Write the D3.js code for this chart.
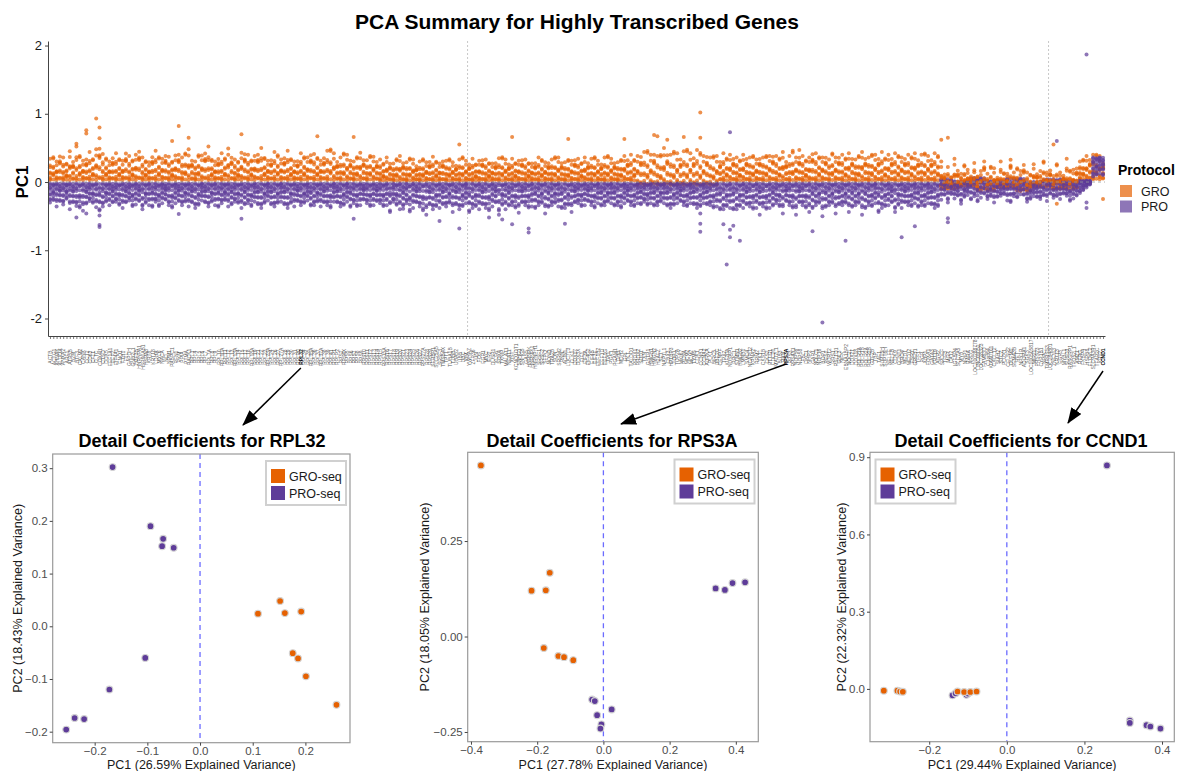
<!DOCTYPE html>
<html>
<head>
<meta charset="utf-8">
<script src="https://cdn.jsdelivr.net/npm/d3@7"></script>
<style>
  body { margin: 0; background: #fff; }
  svg { display: block; font-family: "Liberation Sans", Arial, Helvetica, sans-serif; }
</style>
</head>
<body>
<div id="chart"></div>
<script>
// ---- data ----
const genes = `
ACTB ACTG1 AHNAK ALDOA ANXA2 ARF1 ATP5B B2M BTF3 CALM2 CANX CCT2 CD63 CFL1 CLTC COX4I1 CTSD DDX5 EEF1A1 EEF2
EIF4A1 ENO1 FTH1 FTL GAPDH GNB2L1 H3F3B HNRNPA1 HSP90AB1 HSPA8 KRT8 KRT18 LDHA MYL6 NACA NCL NPM1 PABPC1 PFN1 PKM
PPIA PTMA RACK1 RPL3 RPL4 RPL5 RPL6 RPL7 RPL7A RPL8 RPL9 RPL10 RPL10A RPL11 RPL12 RPL13 RPL13A RPL14 RPL15 RPL17
RPL18 RPL18A RPL19 RPL21 RPL22 RPL23 RPL23A RPL24 RPL26 RPL27 RPL27A RPL28 RPL29 RPL30 RPL31 RPLP0 RPL32 RPL34 RPL35 RPL35A
RPL36 RPL37 RPL37A RPL38 RPL39 RPL41 RPLP1 RPLP2 RPS2 RPS4X RPS5 RPS6 RPS7 RPS8 RPS9 RPS10 RPS11 RPS12 RPS13 RPS14
RPS15 RPS15A RPS16 RPS17 RPS18 RPS19 RPS20 RPS21 RPS23 RPS24 RPS25 RPS26 RPS27 RPS27A RPS28 RPS29 SERBP1 SLC25A5 SRSF3 TMSB4X
TPT1 TUBA1B TUBB UBA52 UBB UBC VIM YWHAZ ZFP36 JUN FOS EGR1 MYC IER2 DUSP1 KLF6 SOX4 TXNIP MALAT1 NEAT1
XIST KCNQ1OT1 SNHG1 SNHG5 GAS5 HNRNPK HNRNPU HNRNPH1 SRSF1 SRSF2 SFPQ NONO TRA2B SON SRRM2 PNN ACIN1 LUC7L3 CLK1 DDX17
DDX3X EIF1 EIF3A EIF4G2 EIF4B EIF3E EEF1B2 EEF1D EEF1G TPI1 PGK1 PGAM1 LDHB MDH2 GPI TKT TALDO1 PRDX1 PRDX2 SOD1
TXN GSTP1 HMGB1 HMGN2 H2AFZ SET NAP1L1 CBX3 HP1BP3 TOP1 TOP2A MKI67 PCNA MCM2 MCM7 TYMS CDK1 CCNB1 CCNA2 AURKA
PLK1 BIRC5 UBE2C CENPF TPX2 KIF20A NUSAP1 PRC1 STMN1 HMGB2 LMNB1 SMC4 NCAPD2 KPNA2 RRM2 TK1 CKS1B CKS2 PTTG1 CDC20
MAD2L1 BUB3 RAN RPS3A RPS3 RPS4Y1 NOP56 NOP58 FBL DKC1 NHP2 GAR1 NOLC1 NOP16 BOP1 PES1 WDR12 RRS1 RSL1D1 GNL3
NIFK EBNA1BP2 NOC2L DDX21 DDX18 POLR1A POLR1B POLR2A POLR2B GTF2B TBP TAF1 SUPT5H SUPT6H NELFE NELFB CDK9 CCNT1 BRD4 MED1
MED12 ESR1 GREB1 TFF1 PGR XBP1 FOXA1 GATA3 KRT19 AGR2 SPDEF TFF3 MGP CA12 IGFBP4 SLC7A5 MYB NRIP1 RARA AREG
LOC100288778 LINC00052 LOC728323 FAM83D C1orf64 KIAA0101 CXCL12 SIAH2 STC2 PDZK1 CELSR2 OLFM1 SEMA3B RET NPY1R ADORA1 SGK3 LOC100505817 MIR21 PRSS23
CYP1B1 NPPC TMPRSS3 LOC284801 ZNF703 KRT13 EGR3 MYBL1 SUSD3 RASGRP1 TPD52L1 AMZ1 RERG FKBP4 HSPB8 ELOVL2 SLC9A3R1 TFAP2C KRT7 CCND1
`.trim().split(/\s+/);

// top of each gene's GRO column (PC1 x 100)
const groTop = [
  34,38,30,42,36,28,45,33,52,40,31,37,44,35,48,55,41,36,30,39,
  42,35,31,47,38,33,40,50,36,32,29,41,46,38,34,43,37,31,39,45,
  36,44,48,35,30,41,39,47,52,34,30,38,42,36,49,40,33,31,43,46,
  40,33,38,45,50,37,31,36,44,41,33,39,46,35,30,34,42,38,36,44,
  41,37,31,39,46,50,42,33,36,44,40,35,30,38,43,36,32,40,37,33,
  33,28,36,30,27,35,38,31,29,36,33,26,30,35,29,33,37,31,27,34,
  31,35,29,27,33,38,31,29,34,27,31,36,33,29,27,31,35,38,33,29,
  34,29,31,36,33,29,27,31,36,34,29,31,33,38,36,31,29,34,31,36,
  34,29,36,31,34,38,31,29,36,40,34,31,29,34,38,36,40,34,38,42,
  44,48,40,46,38,42,50,45,40,47,42,38,45,50,42,40,47,45,38,42,
  36,40,38,33,42,36,40,38,36,33,40,38,36,40,33,38,36,40,38,42,
  38,36,44,33,38,48,36,40,38,33,36,46,42,38,36,40,33,44,36,40,
  40,36,42,38,33,40,44,38,36,42,40,38,44,36,40,38,42,40,36,38,
  40,38,42,36,40,44,38,36,42,40,30,14,22,8,34,20,12,26,18,10,
  28,9,16,36,12,24,20,8,30,14,12,38,14,22,16,30,14,12,26,14,
  16,32,14,20,9,28,14,12,34,18,18,24,30,34,38,36,40,42,38,30
];
// bottom of each gene's PRO column (PC1 x 100)
const proBottom = [
  -30,-27,-36,-29,-33,-25,-40,-31,-35,-38,-42,-33,-28,-31,-37,-44,-36,-29,-34,-31,
  -29,-34,-38,-31,-27,-36,-33,-29,-40,-31,-34,-38,-29,-36,-31,-27,-34,-38,-31,-29,
  -34,-29,-36,-31,-38,-34,-27,-31,-36,-29,-34,-38,-31,-27,-36,-34,-29,-31,-38,-34,
  -31,-36,-29,-34,-38,-31,-27,-34,-36,-31,-29,-34,-38,-31,-36,-29,-34,-31,-27,-36,
  -34,-29,-36,-31,-34,-38,-29,-31,-36,-34,-29,-38,-31,-36,-34,-27,-31,-36,-34,-29,
  -31,-36,-34,-46,-29,-34,-40,-36,-31,-44,-38,-31,-36,-42,-48,-34,-40,-36,-38,-34,
  -36,-31,-44,-34,-40,-36,-31,-46,-38,-36,-40,-34,-38,-42,-36,-31,-48,-34,-40,-36,
  -34,-38,-45,-31,-34,-38,-36,-40,-34,-31,-46,-38,-34,-31,-36,-40,-38,-34,-44,-31,
  -31,-36,-34,-29,-34,-38,-31,-36,-34,-29,-31,-36,-34,-38,-31,-29,-34,-36,-31,-34,
  -29,-34,-31,-36,-34,-29,-31,-36,-38,-34,-31,-29,-34,-36,-31,-34,-38,-36,-31,-34,
  -34,-38,-36,-42,-40,-36,-38,-42,-40,-36,-38,-34,-36,-40,-38,-34,-36,-40,-38,-36,
  -31,-36,-46,-29,-34,-38,-48,-31,-34,-38,-44,-40,-34,-31,-50,-38,-34,-31,-46,-34,
  -34,-31,-44,-38,-34,-31,-48,-40,-34,-36,-31,-46,-38,-36,-34,-31,-44,-34,-38,-31,
  -34,-36,-31,-38,-34,-36,-31,-34,-38,-36,-26,-20,-30,-18,-24,-21,-32,-22,-19,-27,
  -21,-29,-23,-18,-25,-21,-30,-23,-20,-18,-27,-31,-21,-23,-18,-20,-29,-25,-21,-23,
  -25,-20,-28,-18,-23,-21,-25,-18,-20,-28,-24,-21,-16,-12,-8,-4,8,10,12,9
];
// inner edge of the columns by gene stretch: [first gene, PC1 x 100]
const groBaseSeg = [[0, 3], [100, 2], [178, -4], [203, 2], [270, -10], [276, -6], [281, -12],
  [287, -8], [293, -13], [298, -7], [304, -10], [312, 4]];
const proBaseSeg = [[0, -2], [270, 4], [274, 1], [279, 6], [284, 2], [290, 5], [296, 0],
  [301, 4], [308, 2], [316, 36]];
// where the samples sit between inner edge (0) and outer end (1) of a column; four recurring patterns
const groFrac = [
  [0, 0.05, 0.12, 0.3, 0.35, 0.6, 0.68, 1],
  [0.02, 0.2, 0.24, 0.28, 0.5, 0.55, 0.9, 0.95],
  [0, 0.1, 0.15, 0.4, 0.45, 0.48, 0.8, 1],
  [0.05, 0.08, 0.3, 0.36, 0.62, 0.66, 0.7, 0.88]
];
const proFrac = [
  [0, 0.04, 0.1, 0.22, 0.27, 0.45, 0.5, 0.7, 0.76, 1],
  [0.02, 0.14, 0.18, 0.3, 0.38, 0.42, 0.62, 0.66, 0.9, 0.95],
  [0, 0.06, 0.2, 0.24, 0.34, 0.55, 0.6, 0.82, 0.86, 1],
  [0.04, 0.1, 0.12, 0.28, 0.48, 0.52, 0.58, 0.74, 0.92, 0.98]
];
// points standing apart from the columns: [gene index, PC1]
const groOutliers = [
  [14,0.93],[11,0.76],[11,0.71],[15,0.80],[15,0.64],[8,0.56],[37,0.60],[39,0.82],[42,0.65],
  [58,0.70],[81,0.67],[92,0.66],[124,0.55],[140,0.66],[157,0.63],[174,0.63],[183,0.69],
  [184,0.67],[187,0.62],[192,0.66],[197,1.02],[197,0.65],[227,0.47],[270,0.62],[272,0.65],
  [304,0.55],[305,-0.32],[319,-0.25]
];
const proOutliers = [
  [8,-0.52],[11,-0.46],[15,-0.49],[15,-0.63],[15,-0.66],[39,-0.47],[58,-0.54],[92,-0.54],
  [107,-0.39],[118,-0.57],[124,-0.68],[133,-0.52],[137,-0.55],[140,-0.62],[145,-0.74],
  [145,-0.68],[156,-0.61],[197,-0.73],[197,-0.61],[197,-0.46],[204,-0.62],[205,-1.21],
  [206,0.73],[206,-0.81],[206,-0.70],[207,-0.64],[209,-0.86],[215,-0.48],[231,-0.72],
  [234,-2.06],[241,-0.86],[258,-0.81],[262,-0.65],[272,-0.59],[272,-0.53],[305,0.60],
  [314,1.87],[314,-0.30],[314,-0.38]
];
const splitAfter = [126, 302];
const yTicksTop = [-2, -1, 0, 1, 2];
const marked = ["RPL32", "RPS3A", "CCND1"];

// detail panels: [PC1, PC2] per sample
const rpl32Gro = [[0.110,0.024],[0.152,0.048],[0.161,0.025],[0.192,0.028],[0.176,-0.051],[0.186,-0.061],[0.201,-0.095],[0.259,-0.149]];
const rpl32Pro = [[-0.166,0.302],[-0.094,0.190],[-0.070,0.166],[-0.072,0.152],[-0.050,0.149],[-0.104,-0.060],[-0.172,-0.120],[-0.238,-0.174],[-0.220,-0.176],[-0.254,-0.196]];
const rps3aGro = [[-0.370,0.448],[-0.217,0.120],[-0.174,0.121],[-0.162,0.167],[-0.180,-0.030],[-0.136,-0.051],[-0.119,-0.054],[-0.091,-0.062]];
const rps3aPro = [[0.339,0.126],[0.367,0.122],[0.390,0.140],[0.428,0.142],[-0.034,-0.165],[-0.026,-0.169],[-0.019,-0.206],[-0.006,-0.230],[-0.009,-0.241],[0.025,-0.191]];
const ccnd1Gro = [[-0.317,-0.007],[-0.282,-0.007],[-0.275,-0.010],[-0.268,-0.011],[-0.127,-0.010],[-0.110,-0.012],[-0.094,-0.012],[-0.078,-0.010]];
const ccnd1Pro = [[0.258,0.868],[-0.140,-0.025],[-0.132,-0.017],[-0.104,-0.023],[-0.100,-0.018],[0.317,-0.123],[0.317,-0.132],[0.360,-0.141],[0.370,-0.146],[0.396,-0.154]];
const varPC1 = [26.59, 27.78, 29.44];
const varPC2 = [18.43, 18.05, 22.32];

// ---- drawing ----
const W = 1177, H = 771;
const GRO_COL = "#E66101", PRO_COL = "#5E3C99";
const svg = d3.select("#chart").append("svg").attr("width", W).attr("height", H);

svg.append("defs").append("marker")
    .attr("id", "head")
    .attr("markerUnits", "userSpaceOnUse")
    .attr("markerWidth", 16).attr("markerHeight", 12)
    .attr("refX", 15).attr("refY", 6)
    .attr("orient", "auto")
  .append("path")
    .attr("d", "M0,0L16,6L0,12Z")
    .attr("fill", "#000");

svg.append("text")
    .attr("x", 577).attr("y", 29)
    .attr("text-anchor", "middle")
    .attr("font-size", 21).attr("font-weight", "bold")
    .text("PCA Summary for Highly Transcribed Genes");

function segValue(seg, i) {
  var v = seg[0][1];
  seg.forEach(function(s) { if (i >= s[0]) v = s[1]; });
  return v;
}

// top panel
var topBox = {left: 48, right: 1105, top: 41, bottom: 336};
var groPts = [], proPts = [];
genes.forEach(function(g, i) {
  var lo = segValue(groBaseSeg, i), hi = groTop[i];
  groFrac[i % 4].forEach(function(f) { groPts.push({i: i, v: (lo + (hi - lo) * f) / 100, p: "GRO"}); });
  var top = segValue(proBaseSeg, i), bot = proBottom[i];
  proFrac[(i + 2) % 4].forEach(function(f) { proPts.push({i: i, v: (top + (bot - top) * f) / 100, p: "PRO"}); });
});
groOutliers.forEach(function(d) { groPts.push({i: d[0], v: d[1], p: "GRO"}); });
proOutliers.forEach(function(d) { proPts.push({i: d[0], v: d[1], p: "PRO"}); });
// columns where both protocols overlap: interleave the samples
var pts = [];
groPts.concat(proPts).forEach(function(d) { if (d.i < 270 || d.i > 311) pts.push(d); });
d3.range(270, 312).forEach(function(i) {
  var gp = groPts.filter(function(d) { return d.i === i; });
  var pp = proPts.filter(function(d) { return d.i === i; });
  d3.range(Math.max(gp.length, pp.length)).forEach(function(k) {
    if (pp[k]) pts.push(pp[k]);
    if (gp[k]) pts.push(gp[k]);
  });
});

var x = d3.scalePoint()
    .domain(d3.range(genes.length))
    .range([topBox.left, topBox.right])
    .padding(0.6);
var ext = d3.extent(pts, function(d) { return d.v; });
var padY = (ext[1] - ext[0]) * 0.05;
var y = d3.scaleLinear()
    .domain([ext[0] - padY, ext[1] + padY])
    .range([topBox.bottom, topBox.top]);

var topG = svg.append("g");

splitAfter.forEach(function(i) {
  var xx = x(i) + x.step() / 2;
  topG.append("line")
      .attr("x1", xx).attr("x2", xx)
      .attr("y1", topBox.top).attr("y2", topBox.bottom)
      .attr("stroke", "#c8c8c8").attr("stroke-width", 1)
      .attr("stroke-dasharray", "2,2");
});

topG.selectAll(".pt")
    .data(pts)
    .enter()
    .append("circle")
    .attr("class", "pt")
    .attr("cx", function(d) { return x(d.i); })
    .attr("cy", function(d) { return y(d.v); })
    .attr("r", 2)
    .attr("fill", function(d) { return d.p === "GRO" ? GRO_COL : PRO_COL; })
    .attr("fill-opacity", 0.7);

topG.append("line")
    .attr("x1", topBox.left).attr("x2", topBox.right)
    .attr("y1", y(0)).attr("y2", y(0))
    .attr("stroke", "#999").attr("stroke-width", 0.8)
    .attr("stroke-dasharray", "3,3");

var yAx = topG.append("g")
    .attr("transform", "translate(" + topBox.left + ",0)")
    .call(d3.axisLeft(y).tickValues(yTicksTop).tickSize(3).tickSizeOuter(0).tickFormat(function(d) { return String(d); }));
yAx.select(".domain").attr("stroke", "#444");
yAx.selectAll(".tick line").attr("stroke", "#444");
yAx.selectAll("text").attr("font-size", 13).attr("fill", "#1a1a1a").attr("font-family", null);

var xAx = topG.append("g")
    .attr("transform", "translate(0," + topBox.bottom + ")")
    .call(d3.axisBottom(x).tickSize(3).tickSizeOuter(0).tickFormat(function(i) { return genes[i]; }));
xAx.select(".domain").attr("stroke", "#444");
xAx.selectAll(".tick line").attr("stroke", "#444").attr("stroke-width", 0.7);
xAx.selectAll("text")
    .attr("font-family", null)
    .attr("font-size", 5)
    .attr("x", 0).attr("y", 0).attr("dy", "0.35em")
    .attr("text-anchor", "middle")
    .attr("transform", "translate(0,21) rotate(-90)")
    .attr("fill", function(i) { return marked.indexOf(genes[i]) >= 0 ? "#000" : "#5c5c5c"; })
    .attr("font-weight", function(i) { return marked.indexOf(genes[i]) >= 0 ? "bold" : "normal"; });

svg.append("text")
    .attr("transform", "translate(22,182) rotate(-90)")
    .attr("text-anchor", "middle")
    .attr("dy", "0.35em")
    .attr("font-size", 17).attr("font-weight", "bold")
    .text("PC1");

var leg = svg.append("g").attr("transform", "translate(1118,0)");
leg.append("text").attr("x", 0).attr("y", 175).attr("font-size", 14).attr("font-weight", "bold").text("Protocol");
[["GRO", GRO_COL, 185], ["PRO", PRO_COL, 200.5]].forEach(function(k) {
  leg.append("rect").attr("x", 2).attr("y", k[2]).attr("width", 12).attr("height", 12)
      .attr("fill", k[1]).attr("fill-opacity", 0.7);
  leg.append("text").attr("x", 23).attr("y", k[2] + 10.5).attr("font-size", 12.5).attr("fill", "#1a1a1a").text(k[0]);
});

// detail panels
function detailPanel(o) {
  var all = o.gro.concat(o.pro);
  var ex = d3.extent(all, function(d) { return d[0]; });
  var ey = d3.extent(all, function(d) { return d[1]; });
  var px = (ex[1] - ex[0]) * 0.05, py = (ey[1] - ey[0]) * 0.05;
  var sx = d3.scaleLinear().domain([ex[0] - px, ex[1] + px]).range([o.box[0], o.box[2]]);
  var sy = d3.scaleLinear().domain([ey[0] - py, ey[1] + py]).range([o.box[3], o.box[1]]);
  var g = svg.append("g");

  g.append("text")
      .attr("x", o.titleX).attr("y", 447)
      .attr("text-anchor", "middle")
      .attr("font-size", 18).attr("font-weight", "bold")
      .text("Detail Coefficients for " + o.gene);

  g.append("line")
      .attr("x1", sx(0)).attr("x2", sx(0))
      .attr("y1", o.box[1]).attr("y2", o.box[3])
      .attr("stroke", "#6b6bff").attr("stroke-width", 1.3)
      .attr("stroke-dasharray", "5,4");

  [[o.pro, PRO_COL], [o.gro, GRO_COL]].forEach(function(s) {
    g.selectAll(null)
        .data(s[0])
        .enter()
        .append("circle")
        .attr("cx", function(d) { return sx(d[0]); })
        .attr("cy", function(d) { return sy(d[1]); })
        .attr("r", 3.4)
        .attr("fill", s[1])
        .attr("stroke", "#d4d4d4").attr("stroke-width", 1.1);
  });

  g.append("rect")
      .attr("x", o.box[0]).attr("y", o.box[1])
      .attr("width", o.box[2] - o.box[0]).attr("height", o.box[3] - o.box[1])
      .attr("fill", "none").attr("stroke", "#9a9a9a").attr("stroke-width", 1.2);

  var ax = g.append("g")
      .attr("transform", "translate(0," + o.box[3] + ")")
      .call(d3.axisBottom(sx).tickValues(o.xt).tickFormat(d3.format(o.xf)).tickSize(3).tickSizeOuter(0).tickPadding(1));
  ax.select(".domain").remove();
  ax.selectAll(".tick line").attr("stroke", "#444");
  ax.selectAll("text").attr("font-family", null).attr("font-size", 11.5).attr("fill", "#4d4d4d");

  var ay = g.append("g")
      .attr("transform", "translate(" + o.box[0] + ",0)")
      .call(d3.axisLeft(sy).tickValues(o.yt).tickFormat(d3.format(o.yf)).tickSize(3).tickSizeOuter(0).tickPadding(2));
  ay.select(".domain").remove();
  ay.selectAll(".tick line").attr("stroke", "#444");
  ay.selectAll("text").attr("font-family", null).attr("font-size", 11.5).attr("fill", "#4d4d4d");

  g.append("text")
      .attr("x", (o.box[0] + o.box[2]) / 2).attr("y", 769)
      .attr("text-anchor", "middle").attr("font-size", 12.5).attr("fill", "#1a1a1a")
      .text("PC1 (" + o.v1.toFixed(2) + "% Explained Variance)");
  g.append("text")
      .attr("transform", "translate(" + o.yLabX + "," + (o.box[1] + o.box[3]) / 2 + ") rotate(-90)")
      .attr("text-anchor", "middle").attr("dy", "0.35em").attr("font-size", 12.5).attr("fill", "#1a1a1a")
      .text("PC2 (" + o.v2.toFixed(2) + "% Explained Variance)");

  var lg = g.append("g").attr("transform", "translate(" + o.leg[0] + "," + o.leg[1] + ")");
  lg.append("rect").attr("width", 80).attr("height", 44)
      .attr("fill", "#fff").attr("stroke", "#d0d0d0").attr("stroke-width", 2);
  [["GRO-seq", GRO_COL, 8], ["PRO-seq", PRO_COL, 25]].forEach(function(k) {
    lg.append("rect").attr("x", 5).attr("y", k[2]).attr("width", 14).attr("height", 14).attr("fill", k[1]);
    lg.append("text").attr("x", 23).attr("y", k[2] + 11.5).attr("font-size", 12.5).attr("fill", "#1a1a1a").text(k[0]);
  });
}

detailPanel({gene: "RPL32", gro: rpl32Gro, pro: rpl32Pro, box: [52.7, 454, 350, 742.7], titleX: 202,
  xt: [-0.2, -0.1, 0, 0.1, 0.2], xf: ".1f", yt: [-0.2, -0.1, 0, 0.1, 0.2, 0.3], yf: ".1f",
  v1: varPC1[0], v2: varPC2[0], yLabX: 18, leg: [266, 461]});
detailPanel({gene: "RPS3A", gro: rps3aGro, pro: rps3aPro, box: [467.7, 452.3, 758.3, 741.7], titleX: 612,
  xt: [-0.4, -0.2, 0, 0.2, 0.4], xf: ".1f", yt: [-0.25, 0, 0.25], yf: ".2f",
  v1: varPC1[1], v2: varPC2[1], yLabX: 425, leg: [674.5, 459.5]});
detailPanel({gene: "CCND1", gro: ccnd1Gro, pro: ccnd1Pro, box: [870, 452.3, 1174.3, 741.7], titleX: 1021,
  xt: [-0.2, 0, 0.2, 0.4], xf: ".1f", yt: [0, 0.3, 0.6, 0.9], yf: ".1f",
  v1: varPC1[2], v2: varPC2[2], yLabX: 842, leg: [875.5, 459.5]});

// arrows from the gene labels to their panels
[["RPL32", 368, 243, 425], ["RPS3A", 364, 621, 424], ["CCND1", 371, 1068, 423]].forEach(function(a) {
  svg.append("line")
      .attr("x1", x(genes.indexOf(a[0]))).attr("y1", a[1])
      .attr("x2", a[2]).attr("y2", a[3])
      .attr("stroke", "#000").attr("stroke-width", 1.5)
      .attr("marker-end", "url(#head)");
});
</script>
</body>
</html>
